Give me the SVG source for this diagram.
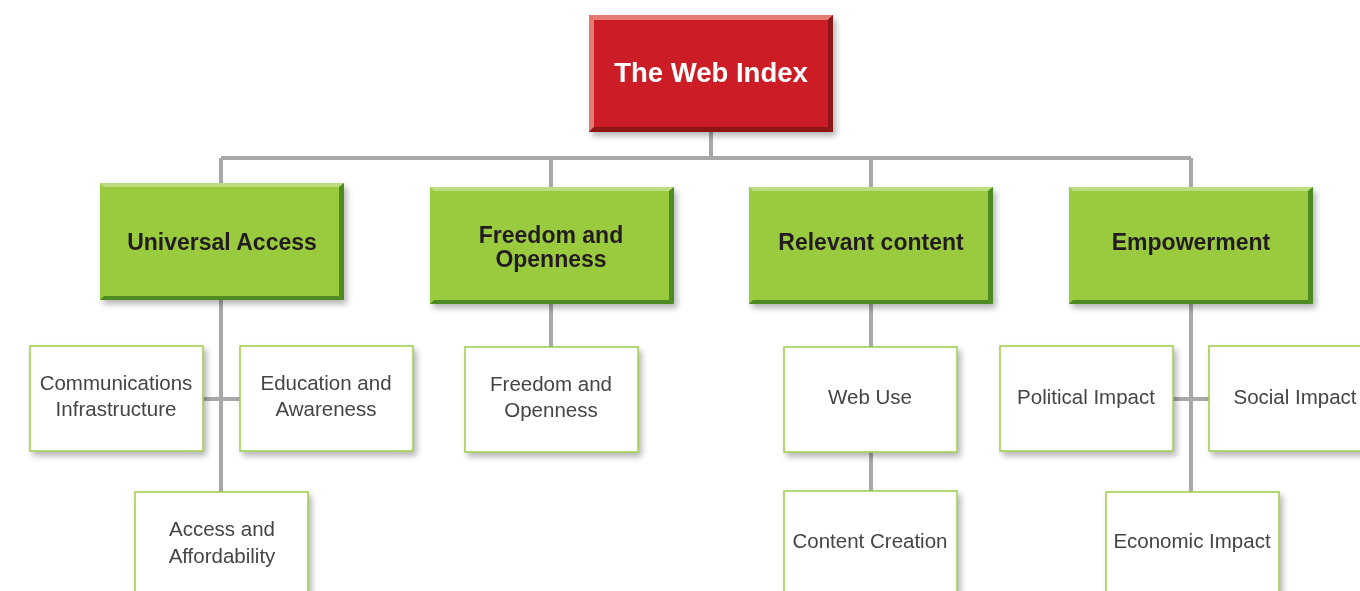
<svg xmlns="http://www.w3.org/2000/svg" width="1360" height="591" viewBox="0 0 1360 591">
<defs>
<filter id="sh" x="-10%" y="-10%" width="125%" height="130%">
<feGaussianBlur in="SourceAlpha" stdDeviation="3"/>
<feOffset dx="3" dy="4"/>
<feComponentTransfer><feFuncA type="linear" slope="0.3"/></feComponentTransfer>
<feMerge><feMergeNode/><feMergeNode in="SourceGraphic"/></feMerge>
</filter>
</defs>
<style>
.ln{stroke:#a7a8aa;stroke-width:4;fill:none}
.red{fill:#cc1f27}
.redL{fill:#e27c72}
.redD{fill:#8c1218}
.grn{fill:#9aca3c}
.grnL{fill:#bcdc80}
.grnD{fill:#4e8a22}
.wb{fill:#ffffff;stroke:#9dcd4a;stroke-width:1.5}
.tt{font-family:"Liberation Sans",Arial,sans-serif;font-weight:bold;font-size:27.5px;fill:#ffffff;text-anchor:middle}
.gt{font-family:"Liberation Sans",Arial,sans-serif;font-weight:bold;font-size:23px;fill:#231f20;text-anchor:middle}
.st{font-family:"Liberation Sans",Arial,sans-serif;font-size:20.5px;fill:#444444;text-anchor:middle}
</style>
<rect width="1360" height="591" fill="#ffffff"/>
<g id="connectors">
<path class="ln" d="M711 132V158M221 158H1191M221 158V183M551 158V187M871 158V187M1191 158V187"/>
<path class="ln" d="M221 300V492M203 399H240"/>
<path class="ln" d="M551 304V347"/>
<path class="ln" d="M871 304V491"/>
<path class="ln" d="M1191 304V492M1173 399H1209"/>
</g>
<g id="web-index" filter="url(#sh)">
<rect class="red" x="589" y="15" width="244" height="117"/>
<polygon class="redL" points="589,15 833,15 828,20 594,20"/>
<polygon class="redL" points="589,15 594,20 594,127 589,132"/>
<polygon class="redD" points="833,15 833,132 828,127 828,20"/>
<polygon class="redD" points="589,132 833,132 828,127 594,127"/>
<text class="tt" x="711" y="82">The Web Index</text>
</g>
<g id="universal-access" filter="url(#sh)">
<rect class="grn" x="100" y="183" width="244" height="117"/>
<polygon class="grnL" points="100,183 344,183 339,187 104,187"/>
<polygon class="grnD" points="344,183 344,300 339,296 339,187"/>
<polygon class="grnD" points="100,300 344,300 339,296 104,296"/>
<text class="gt" x="222" y="250">Universal Access</text>
</g>
<g id="freedom-openness" filter="url(#sh)">
<rect class="grn" x="430" y="187" width="244" height="117"/>
<polygon class="grnL" points="430,187 674,187 669,191 434,191"/>
<polygon class="grnD" points="674,187 674,304 669,300 669,191"/>
<polygon class="grnD" points="430,304 674,304 669,300 434,300"/>
<text class="gt" x="551" y="243">Freedom and</text>
<text class="gt" x="551" y="267">Openness</text>
</g>
<g id="relevant-content" filter="url(#sh)">
<rect class="grn" x="749" y="187" width="244" height="117"/>
<polygon class="grnL" points="749,187 993,187 988,191 753,191"/>
<polygon class="grnD" points="993,187 993,304 988,300 988,191"/>
<polygon class="grnD" points="749,304 993,304 988,300 753,300"/>
<text class="gt" x="871" y="250">Relevant content</text>
</g>
<g id="empowerment" filter="url(#sh)">
<rect class="grn" x="1069" y="187" width="244" height="117"/>
<polygon class="grnL" points="1069,187 1313,187 1308,191 1073,191"/>
<polygon class="grnD" points="1313,187 1313,304 1308,300 1308,191"/>
<polygon class="grnD" points="1069,304 1313,304 1308,300 1073,300"/>
<text class="gt" x="1191" y="250">Empowerment</text>
</g>
<g id="communications-infrastructure" filter="url(#sh)">
<rect class="wb" x="30" y="346" width="173" height="105"/>
<text class="st" x="116" y="390">Communications</text>
<text class="st" x="116" y="416">Infrastructure</text>
</g>
<g id="education-awareness" filter="url(#sh)">
<rect class="wb" x="240" y="346" width="173" height="105"/>
<text class="st" x="326" y="390">Education and</text>
<text class="st" x="326" y="416">Awareness</text>
</g>
<g id="access-affordability" filter="url(#sh)">
<rect class="wb" x="135" y="492" width="173" height="105"/>
<text class="st" x="222" y="536">Access and</text>
<text class="st" x="222" y="563">Affordability</text>
</g>
<g id="freedom-openness-sub" filter="url(#sh)">
<rect class="wb" x="465" y="347" width="173" height="105"/>
<text class="st" x="551" y="391">Freedom and</text>
<text class="st" x="551" y="417">Openness</text>
</g>
<g id="web-use" filter="url(#sh)">
<rect class="wb" x="784" y="347" width="173" height="105"/>
<text class="st" x="870" y="404">Web Use</text>
</g>
<g id="content-creation" filter="url(#sh)">
<rect class="wb" x="784" y="491" width="173" height="106"/>
<text class="st" x="870" y="548">Content Creation</text>
</g>
<g id="political-impact" filter="url(#sh)">
<rect class="wb" x="1000" y="346" width="173" height="105"/>
<text class="st" x="1086" y="404">Political Impact</text>
</g>
<g id="social-impact" filter="url(#sh)">
<rect class="wb" x="1209" y="346" width="173" height="105"/>
<text class="st" x="1295" y="404">Social Impact</text>
</g>
<g id="economic-impact" filter="url(#sh)">
<rect class="wb" x="1106" y="492" width="173" height="105"/>
<text class="st" x="1192" y="548">Economic Impact</text>
</g>
</svg>
